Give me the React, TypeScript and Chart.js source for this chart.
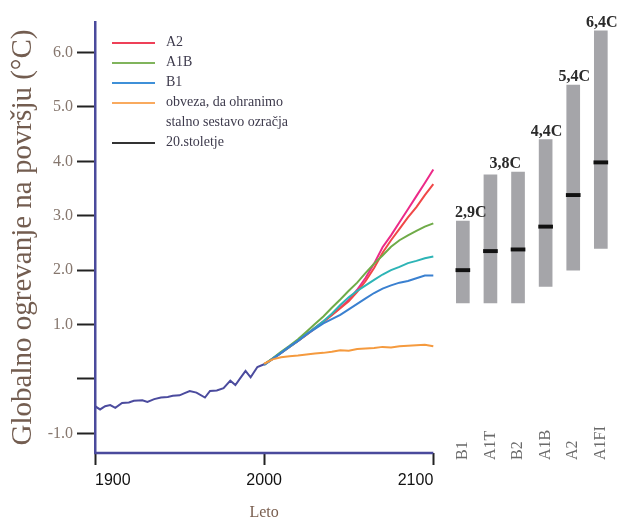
import React, { useEffect, useRef } from 'react';
import { Chart, registerables } from 'chart.js';

Chart.register(...registerables);

// ---- data ----
const histYears = [1900, 1903, 1906, 1909, 1912, 1916, 1920, 1923, 1928, 1931, 1935, 1939, 1943, 1946, 1950, 1953, 1956, 1960, 1965, 1968, 1972, 1976, 1980, 1983, 1986, 1989, 1992, 1996, 2000];
const histValues = [-0.50, -0.56, -0.50, -0.48, -0.53, -0.44, -0.43, -0.40, -0.39, -0.42, -0.37, -0.34, -0.33, -0.31, -0.30, -0.26, -0.22, -0.25, -0.34, -0.22, -0.21, -0.17, -0.03, -0.11, 0.02, 0.15, 0.03, 0.22, 0.27];

const projYears = [2000, 2005, 2010, 2015, 2020, 2025, 2030, 2035, 2040, 2045, 2050, 2055, 2060, 2065, 2070, 2075, 2080, 2085, 2090, 2095, 2100];
const a1fiValues = [0.27, 0.37, 0.48, 0.59, 0.70, 0.82, 0.94, 1.06, 1.18, 1.31, 1.45, 1.64, 1.86, 2.12, 2.42, 2.64, 2.88, 3.12, 3.36, 3.60, 3.85];
const a2Values = [0.27, 0.37, 0.48, 0.59, 0.70, 0.81, 0.93, 1.05, 1.17, 1.30, 1.43, 1.60, 1.80, 2.04, 2.32, 2.55, 2.76, 2.97, 3.16, 3.38, 3.58];
const a1bValues = [0.27, 0.38, 0.50, 0.61, 0.73, 0.87, 1.01, 1.15, 1.31, 1.46, 1.62, 1.77, 1.95, 2.12, 2.27, 2.43, 2.55, 2.64, 2.72, 2.80, 2.86];
const b2Values = [0.26, 0.37, 0.48, 0.59, 0.70, 0.82, 0.94, 1.06, 1.20, 1.36, 1.50, 1.62, 1.72, 1.82, 1.92, 2.00, 2.06, 2.13, 2.17, 2.22, 2.25];
const b1Values = [0.26, 0.37, 0.48, 0.60, 0.70, 0.82, 0.92, 1.02, 1.10, 1.18, 1.28, 1.38, 1.48, 1.58, 1.66, 1.72, 1.77, 1.80, 1.85, 1.90, 1.90];
const commitValues = [0.28, 0.36, 0.40, 0.42, 0.43, 0.45, 0.47, 0.48, 0.50, 0.53, 0.52, 0.55, 0.56, 0.57, 0.59, 0.58, 0.60, 0.61, 0.62, 0.63, 0.60];

const xTickValues = [1900, 2000, 2100];
const yTickValues = [-1, 0, 1, 2, 3, 4, 5, 6];

const barCategories = ['B1', 'A1T', 'B2', 'A1B', 'A2', 'A1FI'];
const barLow = [1.4, 1.4, 1.4, 1.7, 2.0, 2.4];
const barHigh = [2.9, 3.75, 3.8, 4.4, 5.4, 6.4];
const barBest = [2.0, 2.35, 2.38, 2.8, 3.38, 3.98];

const rangeLabels = ['2,9C', '3,8C', '4,4C', '5,4C', '6,4C'];
const rangeLabelValues = [2.9, 3.8, 4.4, 5.4, 6.4];
const rangeLabelPositions = [0.25, 1.5, 3, 4, 5];

const legendLabels: (string | string[])[] = ['A2', 'A1B', 'B1', ['obveza, da ohranimo', 'stalno sestavo ozračja'], '20.stoletje'];
const legendColors = ['#ee4058', '#80b45c', '#3f90d8', '#f9aa5e', '#333333'];

const yTitle = 'Globalno ogrevanje na površju (°C)';
const xTitle = 'Leto';

// ---- styles ----
const AXIS_COLOR = '#4a4a9c';
const SERIF = "'Liberation Serif', 'DejaVu Serif', serif";
const SANS = "'Liberation Sans', Arial, sans-serif";
const MARK_HALF = 0.03;

const overlayPlugin = {
  id: 'overlay',
  beforeDatasetsDraw(chart: any) {
    const { ctx, chartArea, scales } = chart;
    const x = scales.x;
    ctx.save();
    ctx.strokeStyle = AXIS_COLOR;
    ctx.lineWidth = 2.5;
    ctx.beginPath();
    ctx.moveTo(x.getPixelForValue(xTickValues[0]) - 1, chartArea.bottom);
    ctx.lineTo(x.getPixelForValue(xTickValues[xTickValues.length - 1]), chartArea.bottom);
    ctx.stroke();
    ctx.restore();
  },
  afterDraw(chart: any) {
    const { ctx, chartArea, scales } = chart;
    const x = scales.x;
    const y = scales.y;
    const xb = scales.xb;
    ctx.save();

    // x title
    ctx.fillStyle = '#7a5f50';
    ctx.font = `16px ${SERIF}`;
    ctx.textAlign = 'center';
    ctx.textBaseline = 'middle';
    const mid = (xTickValues[0] + xTickValues[xTickValues.length - 1]) / 2;
    ctx.fillText(xTitle, x.getPixelForValue(mid), chartArea.bottom + 60);

    // legend
    let rowY = chartArea.top + 20;
    ctx.font = `14px ${SERIF}`;
    ctx.textAlign = 'left';
    legendLabels.forEach((lab, i) => {
      ctx.strokeStyle = legendColors[i];
      ctx.lineWidth = 2;
      ctx.beginPath();
      ctx.moveTo(chartArea.left + 17, rowY + 1);
      ctx.lineTo(chartArea.left + 60, rowY + 1);
      ctx.stroke();
      ctx.fillStyle = '#3d3a4c';
      const lines = Array.isArray(lab) ? lab : [lab];
      lines.forEach((t, j) => {
        ctx.fillText(t, chartArea.left + 71, rowY + j * 20);
      });
      rowY += 20 * lines.length;
    });

    // range labels above bars
    ctx.fillStyle = '#2a2a2a';
    ctx.font = `bold 16px ${SERIF}`;
    ctx.textAlign = 'center';
    ctx.textBaseline = 'alphabetic';
    rangeLabels.forEach((t, i) => {
      ctx.fillText(t, xb.getPixelForValue(rangeLabelPositions[i]) + 1, y.getPixelForValue(rangeLabelValues[i]) - 4);
    });

    // rotated category labels
    ctx.fillStyle = '#6a6a6a';
    ctx.font = `16px ${SERIF}`;
    ctx.textAlign = 'left';
    ctx.textBaseline = 'middle';
    barCategories.forEach((c, i) => {
      ctx.save();
      ctx.translate(xb.getPixelForValue(i), chartArea.bottom + 7);
      ctx.rotate(-Math.PI / 2);
      ctx.fillText(c, 0, 0);
      ctx.restore();
    });

    ctx.restore();
  },
};

function line(label: string, xs: number[], ys: number[], color: string) {
  return {
    type: 'line' as const,
    label,
    data: xs.map((v, i) => ({ x: v, y: ys[i] })),
    borderColor: color,
    backgroundColor: color,
    borderWidth: 2,
    pointRadius: 0,
    tension: 0,
    xAxisID: 'x',
    yAxisID: 'y',
  };
}

export default function App() {
  const ref = useRef<HTMLCanvasElement | null>(null);
  useEffect(() => {
    if (!ref.current) return;
    const chart = new Chart(ref.current, {
      type: 'line',
      data: {
        datasets: [
          line('Konstantno', projYears, commitValues, '#f59a3e') as any,
          line('B1', projYears, b1Values, '#3a80d0'),
          line('B2', projYears, b2Values, '#2db4b6'),
          line('A1B', projYears, a1bValues, '#6fab48'),
          line('A2', projYears, a2Values, '#f04848'),
          line('A1FI', projYears, a1fiValues, '#ec2a88'),
          line('20.stoletje', histYears, histValues, '#4b4b9e'),
          {
            type: 'bar' as const,
            label: 'range',
            data: barLow.map((v, i) => ({ x: i, y: [v, barHigh[i]] })),
            xAxisID: 'xb',
            yAxisID: 'y',
            backgroundColor: '#a5a5a9',
            barThickness: 13,
            borderWidth: 0,
            grouped: false,
            order: 2,
          } as any,
          {
            type: 'bar' as const,
            label: 'best',
            data: barBest.map((v, i) => ({ x: i, y: [v - MARK_HALF, v + MARK_HALF] })),
            xAxisID: 'xb',
            yAxisID: 'y',
            backgroundColor: '#111111',
            barThickness: 14,
            borderWidth: 0,
            grouped: false,
            order: 1,
          } as any,
        ],
      },
      options: {
        animation: false,
        responsive: false,
        maintainAspectRatio: false,
        devicePixelRatio: 1,
        layout: { padding: { top: 22, right: 8, left: 0, bottom: 0 } },
        plugins: { legend: { display: false }, tooltip: { enabled: false } },
        scales: {
          x: {
            type: 'linear',
            min: 1900,
            max: 2208,
            offset: false,
            afterBuildTicks: (s: any) => { s.ticks = xTickValues.map((v) => ({ value: v })); },
            afterFit: (s: any) => { s.height = 68; },
            border: { display: false },
            grid: { offset: false, drawOnChartArea: false, drawTicks: true, tickLength: 12, tickColor: '#222', tickWidth: 2 } as any,
            ticks: {
              align: 'inner',
              padding: 6,
              color: '#111',
              font: { family: SANS, size: 16 },
              maxRotation: 0,
              callback: (v: any) => String(v),
            } as any,
          },
          xb: {
            type: 'linear',
            display: false,
            offset: false,
            grid: { offset: false },
            min: -13.33,
            max: 5.55,
          },
          y: {
            type: 'linear',
            min: -1.36,
            max: 6.56,
            afterBuildTicks: (s: any) => { s.ticks = yTickValues.map((v) => ({ value: v })); },
            afterFit: (s: any) => { s.width = 95; },
            border: { display: true, color: AXIS_COLOR, width: 2.5 },
            grid: { drawOnChartArea: false, drawTicks: true, tickLength: 18, tickColor: '#222', tickWidth: 2 } as any,
            ticks: {
              padding: 4,
              color: '#85766d',
              font: { family: SERIF, size: 16 },
              callback: (v: any) => (v === 0 ? '' : Number(v).toFixed(1)),
            },
            title: {
              display: true,
              text: yTitle,
              color: '#735d50',
              font: { family: SERIF, size: 29 },
              padding: { top: 6, bottom: 0 },
            },
          },
        },
      },
      plugins: [overlayPlugin],
    } as any);
    return () => chart.destroy();
  }, []);
  return (
    <div style={{ position: 'fixed', left: 0, top: 0, width: 624, height: 521, background: '#fff' }}>
      <canvas ref={ref} width={624} height={521} style={{ width: 624, height: 521 }} />
    </div>
  );
}
